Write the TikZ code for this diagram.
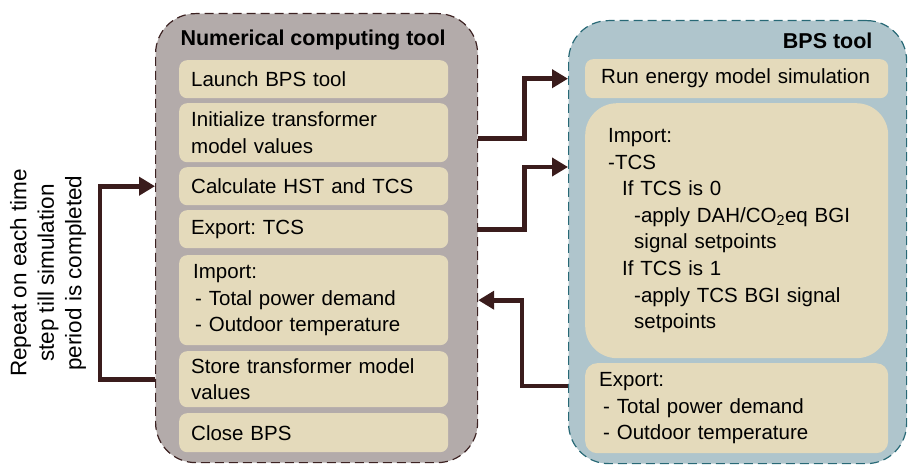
\documentclass[tikz,border=0pt]{standalone}
\usepackage{fontspec}
\setmainfont{Liberation Sans}
\frenchspacing
\usetikzlibrary{arrows.meta,positioning,calc}
\definecolor{ncgray}{RGB}{179,171,170}
\definecolor{ncline}{RGB}{60,34,34}
\definecolor{bpsblue}{RGB}{175,197,204}
\definecolor{bpsline}{RGB}{40,105,118}
\definecolor{stepfill}{RGB}{228,218,187}
\definecolor{flowcol}{RGB}{58,28,28}
\tikzset{
    >={Triangle[length=16pt,width=18pt]},
    panel/.style={line width=1.2pt,dash pattern=on 9pt off 5pt,rounded corners=40pt,anchor=north west,inner sep=0pt},
    stepbox/.style={fill=stepfill,rounded corners=8pt,anchor=north west,align=left,inner ysep=0pt,font=\fontsize{20.5}{26.6}\selectfont},
    panelname/.style={font=\fontsize{21.5}{26}\selectfont\bfseries},
    flow/.style={->,draw=flowcol,line width=4.8pt}
}

\begin{document}
\begin{tikzpicture}[x=1pt,y=-1pt]
        \useasboundingbox (0,0) rectangle (908,465);

        % Panels
        \node[panel,draw=ncline,fill=ncgray,minimum width=322,minimum height=449] (ncbox) at (155,13) {};
        \node[panel,draw=bpsline,fill=bpsblue,minimum width=338,minimum height=443] (bpsbox) at (568,20) {};
        \node[panelname,anchor=west] (nctitle) at (177,40) {Numerical computing tool};
        \node[panelname,anchor=east] (bpstitle) at (876,41) {BPS tool};

        % Steps of the numerical computing tool
        \foreach \top/\h/\name/\txt in {
            60/38/launch/{Launch BPS tool},
            103/59/init/{Initialize transformer\\model values},
            167/38/calc/{Calculate HST and TCS},
            210/38/exptcs/{Export: TCS},
            255/90/ncimport/{\hspace*{2pt}Import:\\\hspace*{4pt}- Total power demand\\\hspace*{4pt}- Outdoor temperature},
            351/56/store/{Store transformer model\\values},
            413/39/closebps/{Close BPS}
        } {
            \node[stepbox,minimum width=269,minimum height=\h,inner xsep=12pt,text width=245] (\name) at (179,\top) {\txt};
        }

        % Steps of the BPS tool
        \node[stepbox,minimum width=303,minimum height=39,inner xsep=16pt,text width=271] (run) at (585,59) {Run energy model simulation};
        \node[stepbox,rounded corners=32pt,minimum width=303,minimum height=255,inner xsep=23pt,text width=257] (bpsimport) at (585,103)
            {Import:\\-TCS\\\hspace*{14pt}If TCS is 0\\\hspace*{26pt}-apply DAH/CO\textsubscript{2}eq BGI\\\hspace*{26pt}signal setpoints\\\hspace*{14pt}If TCS is 1\\\hspace*{26pt}-apply TCS BGI signal\\\hspace*{26pt}setpoints};
        \node[stepbox,rounded corners=12pt,minimum width=303,minimum height=90,inner xsep=14pt,text width=275] (bpsexport) at (585,363)
            {Export:\\\hspace*{4pt}- Total power demand\\\hspace*{4pt}- Outdoor temperature};

        % Loop note
        \node[rotate=90,align=center,font=\fontsize{22.5}{27.5}\selectfont] (loopnote) at (48,273)
            {Repeat on each time\\step till simulation\\period is completed};

        % Data exchange
        \coordinate (initout) at ([yshift=-5.5pt]init.east);
        \coordinate (tcsin) at ([yshift=-64pt]bpsimport.north);
        \coordinate (expout) at ([yshift=-23pt]bpsexport.north);
        \draw[flow] (initout -| ncbox.east) -- ++(46,0) |- (run.west -| bpsbox.west);
        \draw[flow] (exptcs.east -| ncbox.east) -- ++(46,0) |- (tcsin -| bpsbox.west);
        \draw[flow] (expout -| bpsbox.west) -- ++(-46,0) |- (ncimport.east -| ncbox.east);
        \draw[flow] (store.west -| ncbox.west) -- ++(-55,0) |- (calc.west -| ncbox.west);
    \end{tikzpicture}
\end{document}
